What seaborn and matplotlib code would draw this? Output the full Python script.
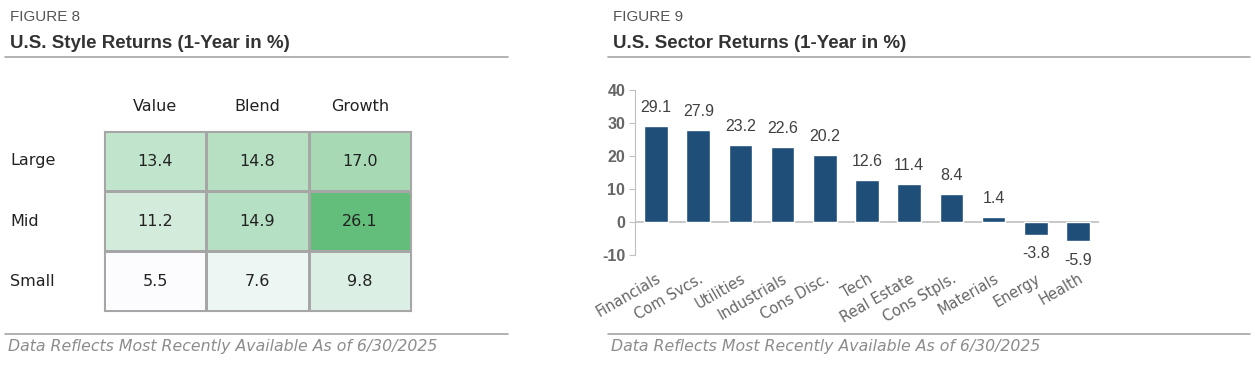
import numpy as np
import pandas as pd
import matplotlib
matplotlib.use('Agg')
import matplotlib.pyplot as plt
from matplotlib.colors import LinearSegmentedColormap
import seaborn as sns

# data
styles = ['Value', 'Blend', 'Growth']
sizes = ['Large', 'Mid', 'Small']
large = [13.4, 14.8, 17.0]
mid = [11.2, 14.9, 26.1]
small = [5.5, 7.6, 9.8]

sectors = ['Financials', 'Com Svcs.', 'Utilities', 'Industrials', 'Cons Disc.', 'Tech',
           'Real Estate', 'Cons Stpls.', 'Materials', 'Energy', 'Health']
returns = [29.1, 27.9, 23.2, 22.6, 20.2, 12.6, 11.4, 8.4, 1.4, -3.8, -5.9]

footer = 'Data Reflects Most Recently Available As of 6/30/2025'

sns.set_style('white')
plt.rcParams['font.family'] = ['DejaVu Sans']
plt.rcParams['axes.unicode_minus'] = False
sansfam = ['Liberation Sans', 'DejaVu Sans']

W, H = 1255, 370
fig = plt.figure(figsize=(W / 100, H / 100), dpi=100)

def box(x0, y0, x1, y1):
    return [x0 / W, 1 - y1 / H, (x1 - x0) / W, (y1 - y0) / H]

def header(x, fig_no, title, x0, x1):
    fig.text(x / W, 1 - 17 / H, fig_no, fontsize=11, color='#555555',
             family=sansfam, va='center')
    fig.text(x / W, 1 - 44 / H, title, fontsize=13.5, color='#333333', fontweight='bold',
             family=sansfam, va='center')
    fig.add_artist(plt.Line2D([x0 / W, x1 / W], [1 - 57 / H] * 2, color='#a6a6a6', lw=1.2))
    fig.add_artist(plt.Line2D([x0 / W, x1 / W], [1 - 334 / H] * 2, color='#a6a6a6', lw=1.2))
    fig.text((x - 2) / W, 1 - 346 / H, footer, fontsize=11.3, color='#8c8c8c',
             style='italic', va='center')

header(10, 'FIGURE 8', 'U.S. Style Returns (1-Year in %)', 5, 508)
header(613, 'FIGURE 9', 'U.S. Sector Returns (1-Year in %)', 608, 1250)

# left: heatmap
df = pd.DataFrame([large, mid, small], index=sizes, columns=styles)
cmap = LinearSegmentedColormap.from_list('xl', ['#FCFCFF', '#63BE7B'])
ax1 = fig.add_axes(box(104, 131, 411, 311))
sns.heatmap(df, ax=ax1, cmap=cmap, annot=True, fmt='.1f', cbar=False,
            linewidths=0.8, linecolor='#a6a6a6',
            annot_kws={'fontsize': 11.5, 'color': '#222222'})
for s in ax1.spines.values():
    s.set_visible(True)
    s.set_color('#a6a6a6')
    s.set_linewidth(0.8)
ax1.xaxis.tick_top()
ax1.tick_params(axis='x', top=False, bottom=False, labeltop=True, labelbottom=False,
                pad=9, labelsize=11.5, labelcolor='#222222')
ax1.tick_params(axis='y', left=False, pad=64, labelsize=11.5, labelcolor='#222222')
for lab in ax1.get_yticklabels():
    lab.set_rotation(0)
    lab.set_ha('left')
ax1.set_xlabel('')
ax1.set_ylabel('')

# right: bar chart
ax2 = fig.add_axes(box(635, 90, 1099, 255))
bars = pd.DataFrame({'sector': sectors, 'ret': returns})
sns.barplot(data=bars, x='sector', y='ret', ax=ax2, color='#1F4E79', saturation=1,
            width=0.56)
ax2.set_ylim(-10, 40)
ax2.set_yticks([-10, 0, 10, 20, 30, 40])
ax2.axhline(0, color='#bfbfbf', lw=1.2, zorder=0)
for s in ['top', 'right', 'bottom']:
    ax2.spines[s].set_visible(False)
ax2.spines['left'].set_color('#bfbfbf')
ax2.tick_params(axis='y', left=True, length=4, color='#bfbfbf', labelsize=11.5,
                labelcolor='#666666', pad=3)
for lab in ax2.get_yticklabels():
    lab.set_fontweight('bold')
    lab.set_family(sansfam)
ax2.tick_params(axis='x', bottom=False, labelsize=10.5, labelcolor='#666666', pad=8)
for lab in ax2.get_xticklabels():
    lab.set_rotation(30)
    lab.set_ha('right')
    lab.set_rotation_mode('anchor')
ax2.set_xlabel('')
ax2.set_ylabel('')
for c in ax2.containers:
    lbls = ax2.bar_label(c, fmt='%.1f', padding=8, fontsize=11.5, color='#404040')
    for t in lbls:
        t.set_family(sansfam)

fig.savefig('out.png', dpi=100)
